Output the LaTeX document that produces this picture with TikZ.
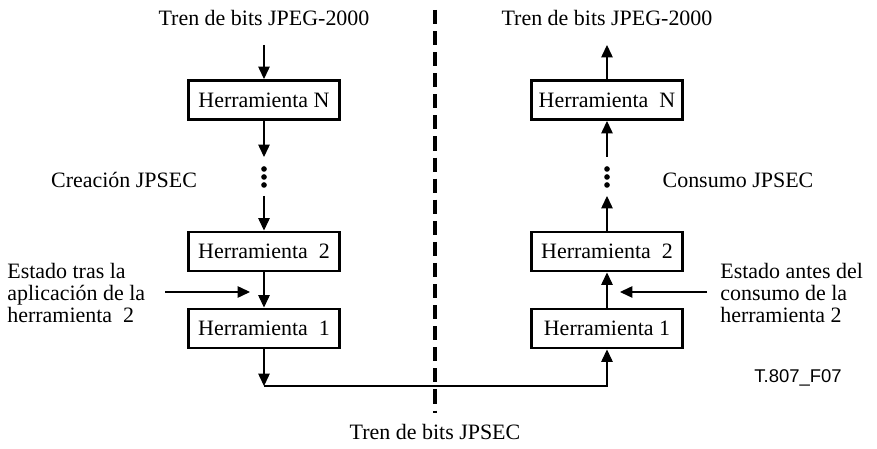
\documentclass[tikz,border=0pt]{standalone}
\usepackage{fontspec}
\setmainfont{Liberation Serif}
\newfontfamily\figfont{Liberation Sans}
\usetikzlibrary{arrows.meta}

\tikzset{
  tool/.style={draw,line width=1.7pt,minimum width=3.04cm,minimum height=0.78cm,inner sep=0pt},
  note/.style={align=left,anchor=west,inner sep=0pt,font=\fontsize{12.5}{12.6}\selectfont},
  flow/.style={->,line width=0.6pt},
  dot/.style={circle,fill,inner sep=0pt,minimum size=3.2pt}
}

\begin{document}
\begin{tikzpicture}[x=0.02cm,y=-0.02cm,>={Triangle[length=7pt,width=6.5pt]},
    font=\fontsize{12.5}{15}\selectfont]
    \useasboundingbox (0,0) rectangle (877,449);
    % creation side
    \node (inL) at (264,18) {Tren de bits JPEG-2000};
    \coordinate (inLa) at (264,45);
    \node[tool] (nL) at (264,100) {Herramienta N};
    \coordinate (dLtop) at (264,157);
    \node[dot] (d1L) at (264,169) {};
    \node[dot] (d2L) at (264,177) {};
    \node[dot] (d3L) at (264,185) {};
    \coordinate (dLbot) at (264,196);
    \node[tool] (twoL) at (264,251.5) {Herramienta~~2};
    \node[tool] (oneL) at (264,328.5) {Herramienta~~1};
    \coordinate (botL) at (264,386);
    \draw[flow] (inLa) -- (nL);
    \draw[flow] (nL) -- (dLtop);
    \draw[flow] (dLbot) -- (twoL);
    \draw[flow] (twoL) -- (oneL);
    \draw[flow] (oneL) -- (botL);
    % consumption side
    \node (outR) at (607,18) {Tren de bits JPEG-2000};
    \coordinate (outRa) at (607,45);
    \node[tool] (nR) at (607,100) {Herramienta~~N};
    \coordinate (dRtop) at (607,157);
    \node[dot] (d1R) at (607,169) {};
    \node[dot] (d2R) at (607,177) {};
    \node[dot] (d3R) at (607,185) {};
    \coordinate (dRbot) at (607,196);
    \node[tool] (twoR) at (607,251.5) {Herramienta~~2};
    \node[tool] (oneR) at (607,328.5) {Herramienta 1};
    \coordinate (botR) at (607,386);
    \draw[flow] (nR) -- (outRa);
    \draw[flow] (dRtop) -- (nR);
    \draw[flow] (twoR) -- (dRbot);
    \draw[flow] (oneR) -- (twoR);
    \draw[flow] (botL) -- (botR) -- (oneR);
    % divider
    \draw[line width=2pt,dash pattern=on 8pt off 4pt] (435,10) -- (435,413);
    % labels
    \node (genL) at (124,180) {Creación JPSEC};
    \node (conR) at (738,180) {Consumo JPSEC};
    \node[note] (stL) at (7,293) {Estado tras la\\aplicación de la\\herramienta~~2};
    \coordinate (stLa) at (165,292);
    \coordinate (stLb) at (250,292);
    \draw[flow] (stLa) -- (stLb);
    \node[note] (stR) at (720,293) {Estado antes del\\consumo de la\\herramienta 2};
    \coordinate (stRa) at (707,292);
    \coordinate (stRb) at (620,292);
    \draw[flow] (stRa) -- (stRb);
    \node (outB) at (435,432) {Tren de bits JPSEC};
    \node[font=\figfont\fontsize{10.5}{12}\selectfont] (fig) at (798,378) {T.807\_F07};
\end{tikzpicture}
\end{document}
